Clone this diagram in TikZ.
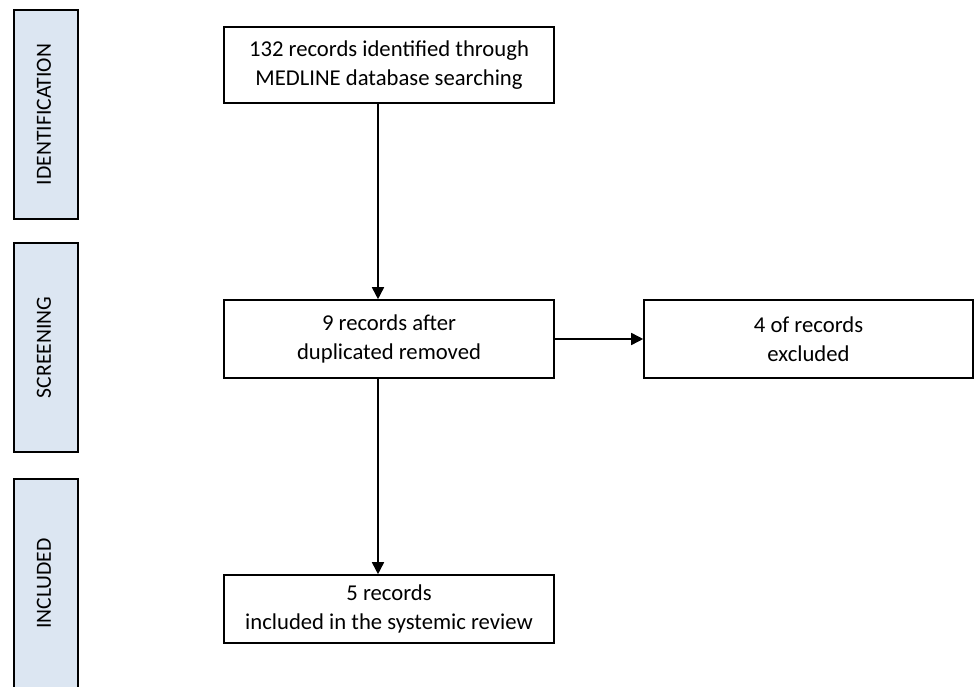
\documentclass[tikz,border=0pt]{standalone}
\usepackage{fontspec}
\setmainfont{Carlito}
\usetikzlibrary{arrows.meta}
\definecolor{phasefill}{RGB}{220,230,242}
\begin{document}
\begin{tikzpicture}[
        >={Triangle[length=0.24cm, width=0.24cm]},
        phase/.style={draw, line width=0.9pt, fill=phasefill,
                      minimum width=1.28cm, minimum height=4.18cm,
                      inner sep=0pt},
        phasetext/.style={rotate=90, font=\fontsize{12.3}{15}\selectfont},
        box/.style={draw, line width=0.9pt, fill=white, inner sep=0pt,
                    minimum width=6.6cm, minimum height=1.52cm,
                    align=center, font=\fontsize{12.9}{16.2}\selectfont},
        arr/.style={->, line width=0.9pt}
      ]
        \useasboundingbox (0,0) rectangle (19.48,-13.74);
        \begin{scope}
        \clip (0,0) rectangle (19.48,-13.74);
        \node[phase] (identification) at (0.92,-2.29) {};
        \node[phase] (screening) at (0.92,-6.95) {};
        \node[phase] (included) at (0.92,-11.67) {};
        \end{scope}
        \node[phasetext] at ([xshift=-0.04cm]identification) {IDENTIFICATION};
        \node[phasetext] at ([xshift=-0.04cm]screening) {SCREENING};
        \node[phasetext] at ([xshift=-0.04cm]included) {INCLUDED};

        \node[box] (identified) at (7.78,-1.30)
          {132 records identified through\\MEDLINE database searching};
        \node[box, minimum height=1.56cm] (dedup) at (7.78,-6.78)
          {9 records after\\duplicated removed};
        \node[box, minimum width=6.58cm, minimum height=1.56cm] (excluded)
          at (16.17,-6.78) {4 of records\\excluded};
        \node[box, minimum height=1.36cm] (review) at (7.78,-12.18)
          {5 records\\included in the systemic review};

        \draw[arr] ([xshift=-0.22cm]identified.south) -- ([xshift=-0.22cm]dedup.north);
        \draw[arr] (dedup) -- (excluded);
        \draw[arr] ([xshift=-0.22cm]dedup.south) -- ([xshift=-0.22cm]review.north);
      \end{tikzpicture}
\end{document}
